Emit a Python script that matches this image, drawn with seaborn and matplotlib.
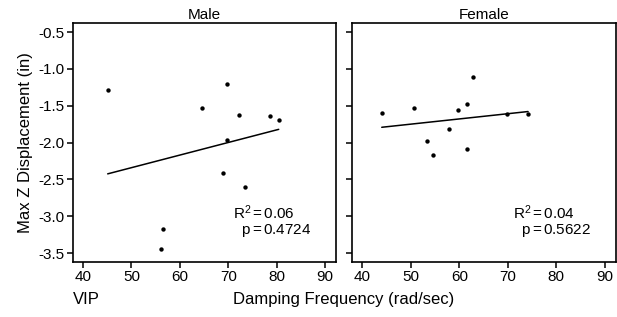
import numpy as np
import pandas as pd
import matplotlib
matplotlib.use("Agg")
import matplotlib.pyplot as plt
import seaborn as sns

# values
male_freq = [45.1, 69.7, 64.6, 72.2, 78.5, 80.4, 69.7, 69.0, 73.5, 56.5, 56.0]
male_disp = [-1.28, -1.21, -1.53, -1.62, -1.64, -1.69, -1.97, -2.41, -2.60, -3.18, -3.45]
female_freq = [44.0, 50.6, 62.8, 61.6, 59.7, 69.9, 74.2, 57.8, 53.4, 54.5, 61.6]
female_disp = [-1.60, -1.53, -1.11, -1.47, -1.56, -1.61, -1.61, -1.81, -1.98, -2.17, -2.09]
panels = ["Male", "Female"]
r2_text = ["0.06", "0.04"]
p_text = ["0.4724", "0.5622"]
x_ticks = [40, 50, 60, 70, 80, 90]
y_ticks = [-0.5, -1.0, -1.5, -2.0, -2.5, -3.0, -3.5]

df = pd.concat([
    pd.DataFrame({"freq": male_freq, "disp": male_disp, "sex": "Male"}),
    pd.DataFrame({"freq": female_freq, "disp": female_disp, "sex": "Female"}),
])

sns.set_theme(style="ticks")
plt.rcParams["font.family"] = ["Liberation Sans", "DejaVu Sans"]
plt.rcParams["mathtext.fontset"] = "custom"
plt.rcParams["mathtext.rm"] = "Liberation Sans"
plt.rcParams["mathtext.it"] = "Liberation Sans"
for k in ["text.color", "axes.labelcolor", "xtick.color", "ytick.color", "axes.edgecolor"]:
    plt.rcParams[k] = "black"

fig, axes = plt.subplots(1, 2, figsize=(6.17, 3.17), dpi=100, sharey=True)
fig.subplots_adjust(left=0.118, right=0.998, top=0.927, bottom=0.174, wspace=0.06)

for i, (ax, name) in enumerate(zip(axes, panels)):
    d = df[df["sex"] == name]
    sns.regplot(data=d, x="freq", y="disp", ax=ax, ci=None, truncate=True,
                color="black", scatter_kws={"s": 10, "linewidths": 0, "alpha": 1},
                line_kws={"linewidth": 1.1})
    ax.set_xlim(37.9, 92.3)
    ax.set_ylim(-3.62, -0.378)
    ax.set_xticks(x_ticks)
    ax.set_yticks(y_ticks)
    ax.set_yticklabels([f"{v:.1f}" for v in y_ticks])
    ax.set_xlabel("")
    ax.set_ylabel("")
    ax.set_title(name, fontsize=11, pad=3)
    for s in ax.spines.values():
        s.set_visible(True)
        s.set_linewidth(1.2)
    ax.tick_params(direction="out", length=4, width=1.1, labelsize=11, pad=2)
    ax.tick_params(axis="y", labelleft=(i == 0))
    stats = "R$^2\\,$=$\\,$" + r2_text[i] + "\n  p$\\,$=$\\,$" + p_text[i]
    ax.text(0.606 if i == 0 else 0.612, 0.17, stats, transform=ax.transAxes,
            fontsize=11, va="center", ha="left", linespacing=0.95)

axes[0].set_ylabel("Max Z Displacement (in)", fontsize=12, labelpad=4)
fig.text(0.557, 0.055, "Damping Frequency (rad/sec)", ha="center", va="center", fontsize=12)
fig.text(0.118, 0.055, "VIP", ha="left", va="center", fontsize=12)

fig.savefig("out.png", dpi=100)
